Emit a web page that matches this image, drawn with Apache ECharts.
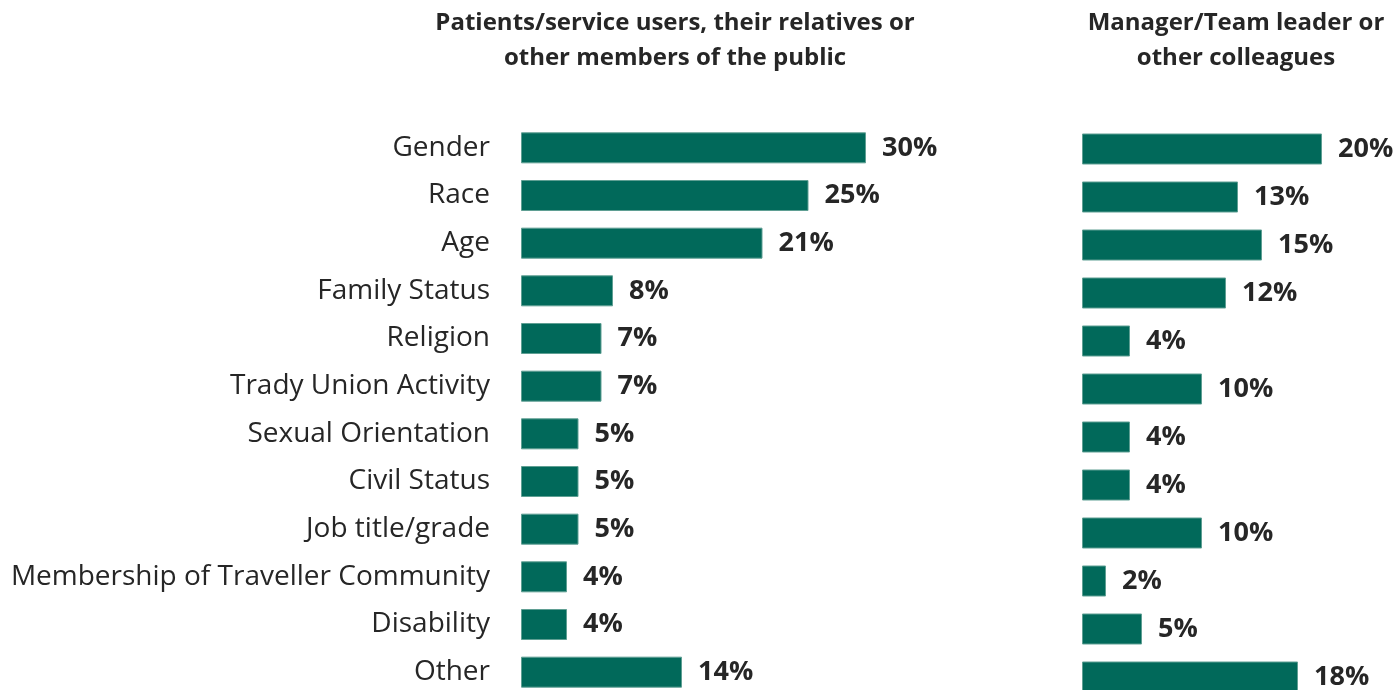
<!DOCTYPE html>
<html>
<head>
<meta charset="utf-8">
<script src="https://cdn.jsdelivr.net/npm/echarts@6/dist/echarts.min.js"></script>
<style>
  html, body { margin: 0; padding: 0; background: #fff; overflow: hidden; }
  #main { width: 1399px; height: 720px; }
</style>
</head>
<body>
<div id="main"></div>
<script>
var categories = ['Gender', 'Race', 'Age', 'Family Status', 'Religion', 'Trady Union Activity',
  'Sexual Orientation', 'Civil Status', 'Job title/grade', 'Membership of Traveller Community',
  'Disability', 'Other'];
var publicValues = [30, 25, 21, 8, 7, 7, 5, 5, 5, 4, 4, 14];
var colleagueValues = [20, 13, 15, 12, 4, 10, 4, 4, 10, 2, 5, 18];
var titles = ['Patients/service users, their relatives or\nother members of the public',
  'Manager/Team leader or\nother colleagues'];

var barColor = '#01695a';
var font = '"Open Sans", "Noto Sans", sans-serif';

// container is a bit taller than the window so the last row can run off the bottom edge
var myChart = echarts.init(document.getElementById('main'));

var labelStyle = {
  show: true,
  position: 'right',
  distance: 16,
  formatter: '{c}%',
  fontFamily: font,
  fontWeight: 'bold',
  fontSize: 27,
  color: '#262626',
  padding: [4, 0, 0, 0]
};

var titleStyle = { fontFamily: font, fontWeight: 'bold', fontSize: 24, lineHeight: 35, color: '#262626' };

var option = {
  animation: false,
  backgroundColor: '#fff',
  title: [{
    text: titles[0],
    left: 670,
    top: 1,
    textAlign: 'center',
    textStyle: titleStyle
  }, {
    text: titles[1],
    left: 1231,
    top: 1,
    textAlign: 'center',
    textStyle: titleStyle
  }],
  grid: [
    { left: 521, top: 124, width: 460, height: 572 },
    { left: 1082, top: 125, width: 300, height: 576 }
  ],
  xAxis: [
    { gridIndex: 0, type: 'value', min: 0, max: 40, show: false },
    { gridIndex: 1, type: 'value', min: 0, max: 25, show: false }
  ],
  yAxis: [{
    gridIndex: 0,
    type: 'category',
    inverse: true,
    data: categories,
    axisLine: { show: false },
    axisTick: { show: false },
    axisLabel: { margin: 31, fontFamily: font, fontSize: 28, color: '#262626', padding: [4, 0, 0, 0] }
  }, {
    gridIndex: 1,
    type: 'category',
    inverse: true,
    data: categories,
    axisLine: { show: false },
    axisTick: { show: false },
    axisLabel: { show: false }
  }],
  series: [{
    type: 'bar',
    xAxisIndex: 0,
    yAxisIndex: 0,
    data: publicValues,
    barWidth: 31,
    itemStyle: { color: barColor, borderColor: '#5f9f93', borderWidth: 1 },
    label: labelStyle
  }, {
    type: 'bar',
    xAxisIndex: 1,
    yAxisIndex: 1,
    data: colleagueValues,
    barWidth: 31,
    itemStyle: { color: barColor, borderColor: '#5f9f93', borderWidth: 1 },
    label: labelStyle
  }]
};

myChart.setOption(option);
</script>
</body>
</html>
